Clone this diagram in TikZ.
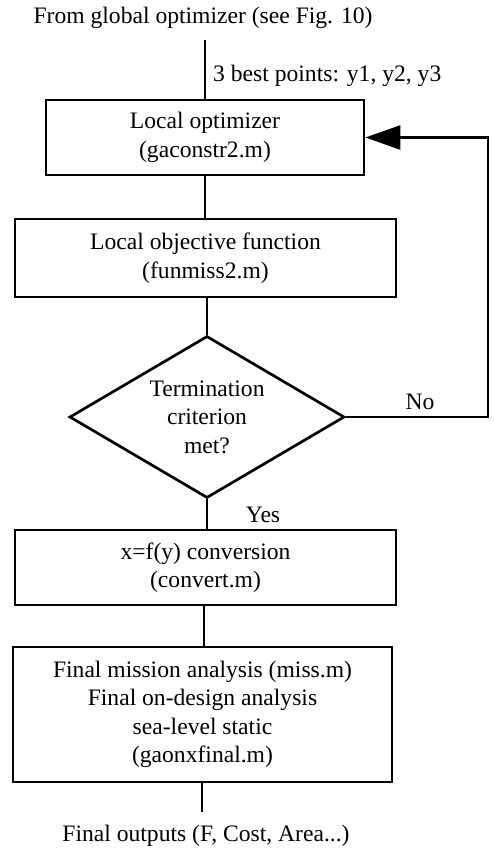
\documentclass[tikz,border=0pt]{standalone}
\usepackage{fontspec}
\setmainfont{Liberation Serif}
\usetikzlibrary{shapes.geometric,arrows.meta}
\begin{document}
\begin{tikzpicture}[x=1pt,y=-1pt,
  every node/.style={font=\fontsize{23.6}{28.5}\selectfont, inner sep=0pt},
  procbox/.style={draw, line width=2.7pt, align=center},
  decision/.style={draw, diamond, line width=2.7pt, align=center, aspect=1.7},
  link/.style={line width=2.7pt},
  feedback/.style={line width=2.7pt, -{Triangle[length=35pt,width=24pt]}}]
  \useasboundingbox (0,0) rectangle (493,850);

  % text at the ends of the chain
  \node (src) at (203,18) {From global optimizer (see Fig. 10)};
  \coordinate (srcend) at (205,40);
  \node[anchor=west] (pts) at (213,76) {3 best points: y1, y2, y3};

  % process steps
  \node[procbox, minimum width=318pt, minimum height=75pt] (opt) at (205,137.5)
    {Local optimizer\\(gaconstr2.m)};
  \node[procbox, minimum width=381pt, minimum height=78pt] (obj) at (205.5,258)
    {Local objective function\\(funmiss2.m)};
  \node[decision, minimum width=275pt, minimum height=162pt] (term) at (207,417)
    {Termination\\criterion\\met?};
  \node[procbox, minimum width=381pt, minimum height=75pt] (conv) at (205.5,567.5)
    {x=f(y) conversion\\(convert.m)};
  \node[procbox, minimum width=379pt, minimum height=135pt] (final) at (202.5,714.5)
    {Final mission analysis (miss.m)\\Final on-design analysis\\sea-level static\\(gaonxfinal.m)};

  \coordinate (outend) at (202,812);
  \node (out) at (206,836) {Final outputs (F, Cost, Area...)};

  % connectors
  \draw[link] (srcend) -- (srcend |- opt.north);
  \draw[link] (opt.south -| srcend) -- (obj.north -| srcend);
  \draw[link] (obj.south -| term.north) -- (term.north);
  \draw[link] (term.south) -- (term.south |- conv.north);
  \draw[link] (conv.south -| 204,0) -- (final.north -| 204,0);
  \draw[link] (final.south -| outend) -- (outend);

  % loop back when the criterion is not met
  \coordinate (loop) at (488,417);
  \draw[feedback] (term.east) -- (loop) |- (opt.east);

  \node (no) at (420,402) {No};
  \node (yes) at (263,515) {Yes};
\end{tikzpicture}
\end{document}
